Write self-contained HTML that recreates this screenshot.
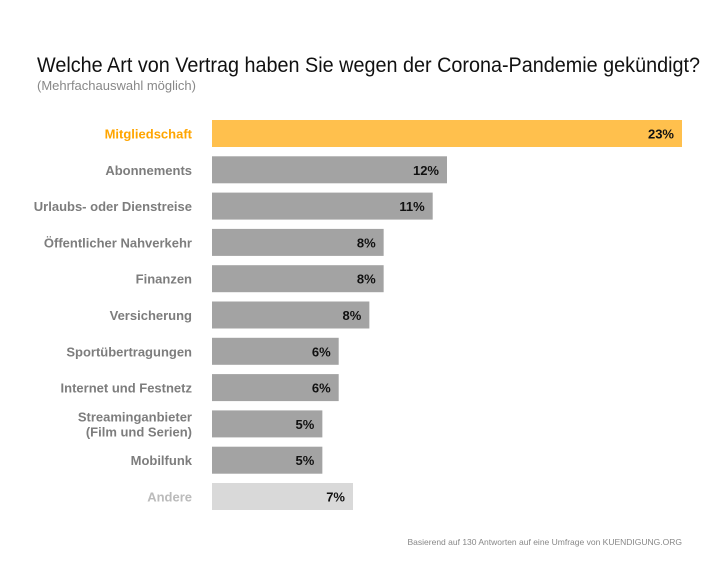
<!DOCTYPE html>
<html><head><meta charset="utf-8"><style>
body{margin:0;background:#fff;}
svg text{font-family:"Liberation Sans",sans-serif;}
</style></head><body>
<svg width="720" height="576" viewBox="0 0 720 576" xmlns="http://www.w3.org/2000/svg">
<text x="37" y="72" font-size="21" fill="#111" textLength="663" lengthAdjust="spacingAndGlyphs">Welche Art von Vertrag haben Sie wegen der Corona-Pandemie gekündigt?</text>
<text x="37" y="90" font-size="13" fill="#888">(Mehrfachauswahl möglich)</text>
<g id="bars"></g>
<text x="682" y="545" font-size="8.5" fill="#888" text-anchor="end">Basierend auf 130 Antworten auf eine Umfrage von KUENDIGUNG.ORG</text>
</svg>
<script>
const categories=["Mitgliedschaft","Abonnements","Urlaubs- oder Dienstreise","Öffentlicher Nahverkehr","Finanzen","Versicherung","Sportübertragungen","Internet und Festnetz","Streaminganbieter|(Film und Serien)","Mobilfunk","Andere"];
const values=[23,11.5,10.8,8.4,8.4,7.7,6.2,6.2,5.4,5.4,6.9];
const valueLabels=["23%","12%","11%","8%","8%","8%","6%","6%","5%","5%","7%"];
const x0=212,xMax=682,maxV=23,rowTop=120,rowStep=36.3,barH=27;
const xs=v=>x0+(xMax-x0)*v/maxV;
const g=document.getElementById('bars');
const NS="http://www.w3.org/2000/svg";
categories.forEach((c,i)=>{
  const y=rowTop+i*rowStep, cy=y+barH/2;
  const fill=i===0?"#ffc04d":(i===categories.length-1?"#d9d9d9":"#a3a3a3");
  const lab=i===0?"#ffa500":(i===categories.length-1?"#bbb":"#7d7d7d");
  const r=document.createElementNS(NS,'rect');
  r.setAttribute('x',x0);r.setAttribute('y',y);r.setAttribute('width',xs(values[i])-x0);r.setAttribute('height',barH);r.setAttribute('fill',fill);
  
  
  g.appendChild(r);
  const vt=document.createElementNS(NS,'text');
  vt.setAttribute('x',xs(values[i])-8);vt.setAttribute('y',cy+5);vt.setAttribute('text-anchor','end');vt.setAttribute('font-size','13');vt.setAttribute('font-weight','bold');vt.setAttribute('fill','#111');
  vt.textContent=valueLabels[i];
  
  
  g.appendChild(vt);
  const parts=c.split('|');
  const t=document.createElementNS(NS,'text');
  t.setAttribute('text-anchor','end');t.setAttribute('font-size','13');t.setAttribute('font-weight','bold');t.setAttribute('fill',lab);
  
  
  parts.forEach((p,k)=>{
    const ts=document.createElementNS(NS,'tspan');
    ts.setAttribute('x',192);
    ts.setAttribute('y',cy+5+(k-(parts.length-1)/2)*15);
    ts.textContent=p;t.appendChild(ts);
  });
  g.appendChild(t);
});
</script>
</body></html>
